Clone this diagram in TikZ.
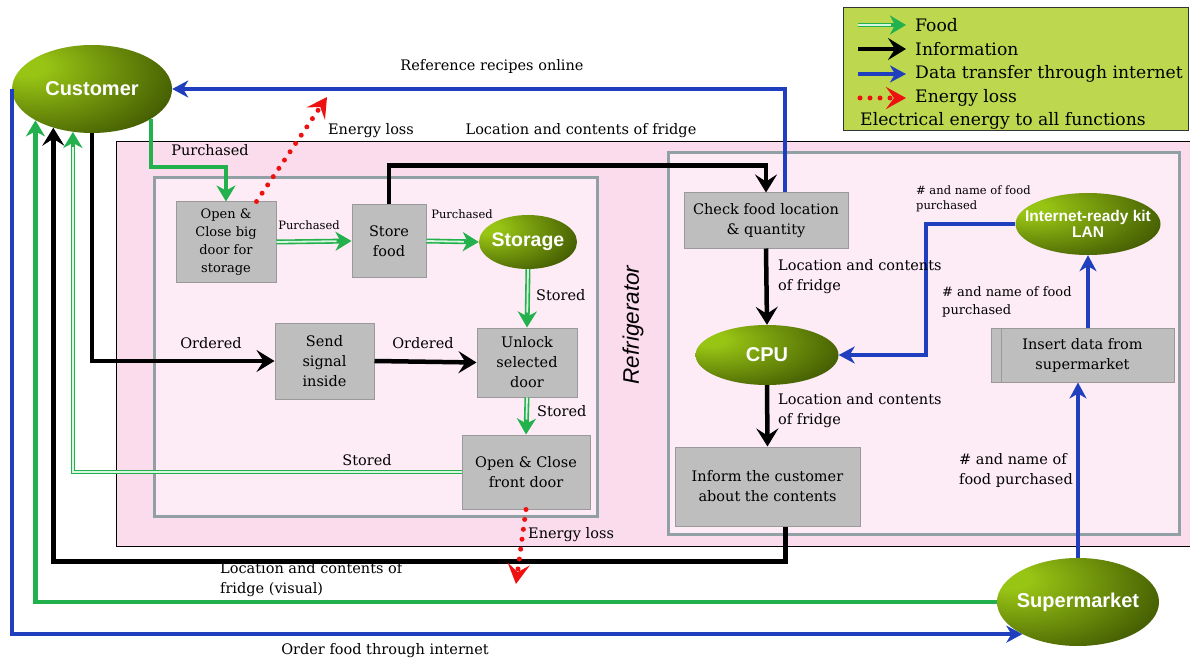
\documentclass[tikz,border=0pt]{standalone}
\usepackage{fontspec}
\setmainfont{DejaVu Serif}
\newfontfamily\labfont{Liberation Sans}
\usetikzlibrary{arrows.meta,shapes.geometric,calc}
\definecolor{pinkO}{HTML}{FBDCEC}
\definecolor{pinkI}{HTML}{FDEBF5}
\definecolor{grayB}{HTML}{90A0A4}
\definecolor{boxF}{HTML}{BEBEBE}
\definecolor{boxD}{HTML}{9A9A9A}
\definecolor{legF}{HTML}{BDD84E}
\definecolor{gG}{HTML}{22B14C}
\definecolor{gL}{HTML}{D8F5E0}
\definecolor{bB}{HTML}{1F3FBF}
\definecolor{rR}{HTML}{EE1111}
\definecolor{olL}{HTML}{98C414}
\definecolor{olD}{HTML}{3A5100}
\pgfdeclareradialshading{olive}{\pgfpoint{-22bp}{14bp}}{color(0bp)=(olL); color(6bp)=(olL); color(45bp)=(olD); color(100bp)=(olD)}
\tikzset{
  box/.style={draw=boxD, fill=boxF, line width=1pt, align=center, inner sep=0pt, font=\fontsize{14.5}{20}\selectfont},
  oval/.style={ellipse, shading=olive, draw=none, inner sep=0pt},
  olab/.style={text=white, inner sep=0pt, align=center, font=\labfont\bfseries\fontsize{20}{22}\selectfont},
  food/.style={draw=gG, line width=4.5pt, -{Stealth[length=16pt,width=19pt,inset=5pt]}},
  food2/.style={draw=gG, line width=5pt, -{Stealth[length=16pt,width=19pt,inset=5pt]}, postaction={draw=gL, line width=1.8pt, -, shorten >=15pt}},
  info/.style={draw=black, line width=4.5pt, -{Stealth[length=18pt,width=22pt,inset=7pt]}},
  data/.style={draw=bB, line width=4pt, -{Stealth[length=16pt,width=17pt,inset=5pt]}},
  loss/.style={draw=rR, line width=5pt, dash pattern=on 0pt off 10pt, line cap=round, -{Stealth[length=20pt,width=22pt,inset=8pt]}},
  lab/.style={inner sep=0pt, align=left, font=\fontsize{14.5}{20}\selectfont},
  slab/.style={inner sep=0pt, align=left, font=\fontsize{11.5}{15}\selectfont},
  leg/.style={inner sep=0pt, anchor=west, font=\fontsize{17.2}{19}\selectfont}
}
\begin{document}
\begin{tikzpicture}[x=1pt,y=-1pt]
\useasboundingbox (0,0) rectangle (1190,660);
\fill[white] (0,0) rectangle (1190,660);
% legend
\draw[fill=legF, draw=black!80, line width=1pt] (843,8) rectangle (1188,131);
\coordinate (l1a) at (858,25); \coordinate (l1b) at (906,25);
\coordinate (l2a) at (858,49); \coordinate (l2b) at (906,49);
\coordinate (l3a) at (858,74); \coordinate (l3b) at (906,74);
\coordinate (l4a) at (860,98); \coordinate (l4b) at (906,98);
\draw[food2, line width=4pt] (l1a) -- (l1b);
\draw[info] (l2a) -- (l2b);
\draw[data] (l3a) -- (l3b);
\draw[loss] (l4a) -- (l4b);
\node[leg] (lt1) at (915,25) {Food};
\node[leg] (lt2) at (915,49) {Information};
\node[leg] (lt3) at (915,74) {Data transfer through internet};
\node[leg] (lt4) at (915,98) {Energy loss};
\node[leg] (lt5) at (860,121) {Electrical energy to all functions};
% refrigerator frames
\draw[fill=pinkO, draw=black, line width=0.8pt] (116,141) rectangle (1195,546);
\draw[fill=pinkI, draw=grayB, line width=3pt] (154,178) rectangle (597,516);
\draw[fill=pinkI, draw=grayB, line width=3pt] (668,153) rectangle (1179,534);
\node[rotate=90, font=\labfont\itshape\fontsize{22.5}{25}\selectfont] (fridge) at (633,325) {Refrigerator};
% ellipses
\node[oval, minimum width=160pt, minimum height=88pt, label={[olab]center:Customer}] (customer) at (92,89) {};
\node[oval, minimum width=98pt, minimum height=54pt, label={[olab, font=\labfont\bfseries\fontsize{19.5}{22}\selectfont]center:Storage}] (storage) at (528,242) {};
\node[oval, minimum width=143pt, minimum height=60pt, label={[olab]center:CPU}] (cpu) at (767,355) {};
\node[oval, minimum width=145pt, minimum height=62pt, label={[olab, font=\labfont\bfseries\fontsize{15.5}{16}\selectfont]center:{Internet-ready kit\\LAN}}] (kit) at (1088,224) {};
\node[oval, minimum width=162pt, minimum height=88pt, label={[olab]center:Supermarket}] (market) at (1078,602) {};
% boxes
\node[box, minimum width=100pt, minimum height=80pt, font=\fontsize{13}{18}\selectfont] (bigdoor) at (226,242) {Open \&\\Close big\\door for\\storage};
\node[box, minimum width=74pt, minimum height=72pt] (store) at (389,241) {Store\\food};
\node[box, minimum width=99pt, minimum height=76pt] (send) at (324.5,361) {Send\\signal\\inside};
\node[box, minimum width=100pt, minimum height=69pt] (unlock) at (527,362.5) {Unlock\\selected\\door};
\node[box, minimum width=128pt, minimum height=74pt] (front) at (526,472) {Open \& Close\\front door};
\node[box, minimum width=164pt, minimum height=55pt] (check) at (766,220.5) {Check food location\\\& quantity};
\node[box, minimum width=183pt, minimum height=54pt] (insert) at (1082.5,355) {Insert data from\\supermarket};
\draw[boxD, line width=1pt] ([xshift=11pt]insert.north west) -- ([xshift=11pt]insert.south west);
\node[box, minimum width=185pt, minimum height=79pt] (inform) at (767.5,486.5) {Inform the customer\\about the contents};
% connectors
\draw[data] (customer.west) |- (market.-150);
\draw[food] (market.west) -| (customer.-151.5);
\draw[info] ([xshift=18pt]inform.south) -- ++(0,35) -| (customer.-135.4);
\draw[food2, line width=4pt] (front.west) -| (customer.-114);
\draw[info] (customer.south) |- (send.west);
\draw[food] (customer.-27.6) -- ++(0,48) -| (bigdoor.north);
\coordinate (el1) at (327,97);
\draw[loss] ([xshift=-20pt]bigdoor.north east) -- (el1);
\draw[food2] (bigdoor.east) -- (store.west);
\draw[food2] (store.east) -- (storage.west);
\draw[info] (store.north) -- ++(0,-39) -| (check.north);
\draw[data] ([xshift=19pt]check.north) |- (customer.east);
\draw[food2] (storage.south) -- (unlock.north);
\draw[food2] (unlock.south) -- (front.north);
\draw[info] (send.east) -- (unlock.west);
\coordinate (el2) at (516,584);
\draw[loss] (front.south) -- (el2);
\draw[info] (check.south) -- (cpu.north);
\draw[info] (cpu.south) -- (inform.north);
\draw[data] (kit.west) -- ++(-89,0) |- (cpu.east);
\draw[data] (insert.north -| kit.south) -- (kit.south);
\draw[data] (market.north) -- (market.north |- insert.south);
% labels
\node[lab] (t1) at (492,67) {Reference recipes online};
\node[lab] (t2) at (371,131) {Energy loss};
\node[lab] (t3) at (581,131) {Location and contents of fridge};
\node[lab] (t4) at (210,150) {Purchased};
\node[slab] (t5) at (309,225) {Purchased};
\node[slab] (t6) at (462,214) {Purchased};
\node[lab, anchor=west] (t7) at (536,295) {Stored};
\node[lab] (t8) at (211,343) {Ordered};
\node[lab] (t9) at (423,343) {Ordered};
\node[lab, anchor=west] (t10) at (537,411) {Stored};
\node[lab] (t11) at (367,460) {Stored};
\node[lab, anchor=west] (t12) at (528,535) {Energy loss};
\node[lab, anchor=west] (t13) at (220,580) {Location and contents of\\fridge (visual)};
\node[lab] (t14) at (385,651) {Order food through internet};
\node[lab, anchor=west] (t15) at (778,277) {Location and contents\\of fridge};
\node[lab, anchor=west] (t16) at (778,411) {Location and contents\\of fridge};
\node[slab, anchor=west] (t17) at (916,199) {\# and name of food\\purchased};
\node[lab, anchor=west, font=\fontsize{13}{18}\selectfont] (t18) at (942,302) {\# and name of food\\purchased};
\node[lab, anchor=east, align=left] (t19) at (1073,470) {\# and name of\\food purchased};
\end{tikzpicture}
\end{document}
